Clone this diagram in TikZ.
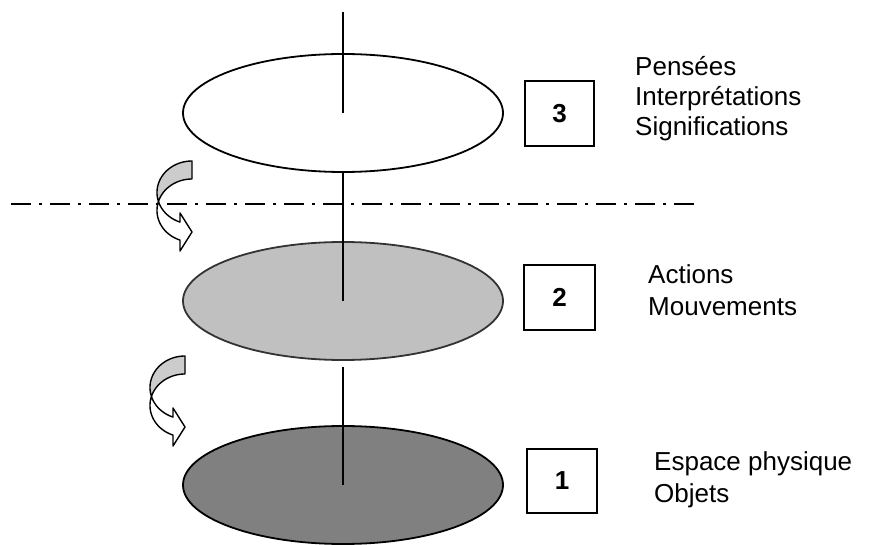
\documentclass[tikz,border=0pt]{standalone}
\usepackage{fontspec}
\setmainfont{Liberation Sans}
\usetikzlibrary{shapes.geometric}

\definecolor{discmid}{RGB}{192,192,192}
\definecolor{disclow}{RGB}{128,128,128}
\definecolor{bandback}{RGB}{204,204,204}

\tikzset{
  disc/.style={ellipse, minimum width=320pt, minimum height=118pt, inner sep=0pt, line width=1.8pt},
  axisline/.style={line width=1.6pt},
  numbox/.style={draw, line width=1.6pt, inner sep=0pt,
                 font=\fontsize{26}{30}\selectfont\bfseries},
  lbl/.style={anchor=base west, inner sep=0pt, font=\fontsize{26}{30}\selectfont},
  sepline/.style={line width=2.4pt, dash pattern=on 20pt off 8pt on 3pt off 8pt},
  band/.style={draw=black, line width=1.4pt, line join=round},
  % curved band turning back from the tail (top right) to a head pointing right
  turn arrow/.pic={
    \path[band, fill=bandback]
      plot[domain=-90:-196.6, samples=40] ({35*cos(\x)},{31.5+31.5*sin(\x)})
      -- plot[domain=-163.4:-90, samples=40] ({35*cos(\x)},{49.5+31.5*sin(\x)})
      -- cycle;
    \path[band, fill=white]
      plot[domain=-163.4:-250, samples=40] ({35*cos(\x)},{49.5+31.5*sin(\x)})
      -- (-12,90) -- (0,71) -- (-12,52)
      -- plot[domain=-250:-196.6, samples=40] ({35*cos(\x)},{31.5+31.5*sin(\x)})
      -- cycle;
  }
}

\begin{document}
\begin{tikzpicture}[x=1pt, y=-1pt]
  \useasboundingbox (0,0) rectangle (879,545);

  % dash-dot separation line
  \coordinate (dl) at (11,204);
  \coordinate (dr) at (699,204);
  \draw[sepline] (dl) -- (dr);

  % the three levels
  \node[disc, draw=black, fill=white] (e3) at (343,113) {};
  \node[disc, draw=black!80, fill=discmid] (e2) at (343,301) {};
  \node[disc, draw=black, fill=disclow] (e1) at (343,485) {};

  % axis through the levels
  \coordinate (top) at (343,12);
  \draw[axisline] (top) -- (e3.center);
  \draw[axisline] (e3.south) -- (e2.center);
  \draw[axisline] ([yshift=-6pt]e2.south) -- (e1.center);

  % level numbers
  \node[numbox, minimum width=69pt, minimum height=65pt] (b3) at (559.5,113.5) {3};
  \node[numbox, minimum width=71pt, minimum height=65pt] (b2) at (559.5,297.5) {2};
  \node[numbox, minimum width=70pt, minimum height=64pt] (b1) at (562,481) {1};

  % descriptions
  \node[lbl] (t3a) at (635,76) {Pensées};
  \node[lbl] (t3b) at (635,106) {Interprétations};
  \node[lbl] (t3c) at (635,136) {Significations};
  \node[lbl] (t2a) at (648,284) {Actions};
  \node[lbl] (t2b) at (648,316) {Mouvements};
  \node[lbl] (t1a) at (654,471) {Espace physique};
  \node[lbl] (t1b) at (654,502) {Objets};

  % turning arrows between levels
  \pic at (192,161) {turn arrow};
  \pic at (185,356) {turn arrow};
\end{tikzpicture}
\end{document}
